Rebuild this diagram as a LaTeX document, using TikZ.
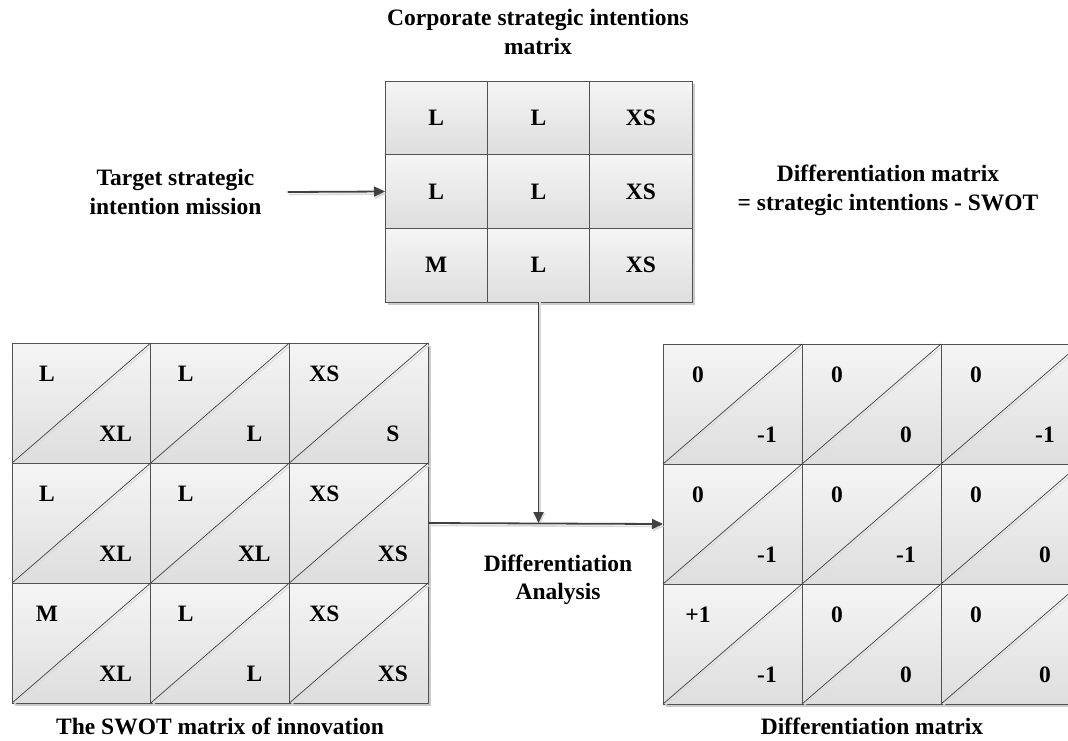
\documentclass[tikz,border=0pt]{standalone}
\usepackage{fontspec}
\setmainfont{Liberation Serif}
\usetikzlibrary{arrows.meta,calc}
\begin{document}
\begin{tikzpicture}[x=1pt,y=-1pt,
  lbl/.style={font=\fontsize{23.5}{28.5}\selectfont\bfseries, align=center, inner sep=0pt},
  val/.style={font=\fontsize{23.5}{27}\selectfont\bfseries, inner sep=0pt},
  block/.style={inner sep=0pt, outer sep=0pt},
  cellbox/.style={draw=black!68, line width=0.9pt, top color=black!4, bottom color=black!13},
  diag/.style={draw=black!75, line width=0.7pt},
  diagshade/.style={draw=black!14, line width=1.1pt},
  flow/.style={draw=black!75, line width=1.8pt, -{Triangle[length=11pt,width=10pt]}},
  flowshade/.style={draw=black!15, line width=1.6pt, -{Triangle[length=11pt,width=10pt]}},
  dropshadow/.style={fill=black!20}
  ]
\useasboundingbox (0,0) rectangle (1068,740);
\clip (0,0) rectangle (1068,740);

% ---------- matrix frames (named) ----------
\node[block, minimum width=307pt, minimum height=221pt] (top) at (538.5,191.5) {};
\node[block, minimum width=416pt, minimum height=360pt] (swot) at (220,523) {};
\node[block, minimum width=417pt, minimum height=360pt] (diff) at (871.5,524) {};

% drop shadows
\fill[dropshadow] ($(top.north west)+(3,3)$) rectangle ($(top.south east)+(3,3)$);
\fill[dropshadow] ($(swot.north west)+(3,3)$) rectangle ($(swot.south east)+(3,3)$);
\fill[dropshadow] ($(diff.north west)+(3,3)$) rectangle ($(diff.south east)+(3,3)$);

% ---------- corporate strategic intentions matrix ----------
\def\cw{102.33}\def\rh{73.67}
\foreach \c/\r/\t in {0/0/L,1/0/L,2/0/XS,0/1/L,1/1/L,2/1/XS,0/2/M,1/2/L,2/2/XS}{
  \path[cellbox] ($(top.north west)+(\c*\cw,\r*\rh)$) rectangle ++(\cw,\rh);
  \node[val] at ($(top.north west)+(\c*\cw+0.5*\cw,\r*\rh+0.5*\rh)$) {\t};
}

% ---------- split cell matrices ----------
% #1 frame node, #2 cell width, #3 cell height, #4 list col/row/upper/lower
\newcommand\splitgrid[4]{%
  \foreach \c/\r/\u/\l in {#4}{
    \path[cellbox] ($(#1.north west)+(\c*#2,\r*#3)$) rectangle ++(#2,#3);
    \draw[diagshade] ($(#1.north west)+(\c*#2+2,\r*#3+#3+1.5)$) -- ++(#2-1,-#3+1);
    \draw[diag] ($(#1.north west)+(\c*#2,\r*#3+#3)$) -- ++(#2,-#3);
    \node[val] at ($(#1.north west)+(\c*#2+35,\r*#3+31)$) {\u};
    \node[val] at ($(#1.north west)+(\c*#2+#2-35,\r*#3+#3-29)$) {\l};
  }%
}
\splitgrid{swot}{138.67}{120}{0/0/L/XL,1/0/L/L,2/0/XS/S,0/1/L/XL,1/1/L/XL,2/1/XS/XS,0/2/M/XL,1/2/L/L,2/2/XS/XS}
\splitgrid{diff}{139}{120}{0/0/0/-1,1/0/0/0,2/0/0/-1,0/1/0/-1,1/1/0/-1,2/1/0/0,0/2/+1/-1,1/2/0/0,2/2/0/0}

% ---------- texts ----------
\node[lbl] (ttl) at (538,32) {Corporate strategic intentions\\matrix};
\node[lbl] (tgt) at (175.5,192) {Target strategic\\intention mission};
\node[lbl] (deq) at (888,190.5) {Differentiation matrix\\= strategic intentions - SWOT};
\node[lbl] (dan) at (558,580) {Differentiation\\Analysis};
\node[lbl] (cap1) at (220,726) {The SWOT matrix of innovation};
\node[lbl] (cap2) at (872,726) {Differentiation matrix};

% ---------- connectors ----------
\coordinate (tgtend) at ($(tgt.east)+(26,0)$);
\coordinate (join) at (top.south |- swot.east);
\draw[flowshade] ($(tgtend)+(1,2.5)$) -- ($(top.west)+(1,2.5)$);
\draw[flow] (tgtend) -- (top.west);
\draw[flowshade] ($(top.south)+(1.5,0)$) -- ($(join)+(1.5,1)$);
\draw[flowshade] ($(swot.east)+(1,2.5)$) -- ($(diff.west)+(1,2.5)$);
\draw[flow] (top.south) -- (join);
\draw[flow] (swot.east) -- (diff.west);
\end{tikzpicture}
\end{document}
